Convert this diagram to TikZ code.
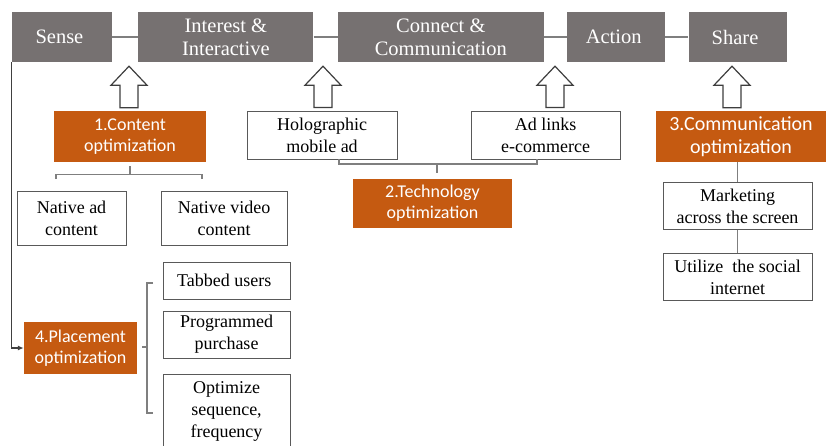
\documentclass[tikz,border=0pt]{standalone}
\usepackage{fontspec}
\setmainfont{Liberation Serif}
\newfontfamily\calib{Carlito}
\usetikzlibrary{positioning, calc, arrows.meta}
\definecolor{boxgray}{RGB}{118,113,113}
\definecolor{rust}{RGB}{197,90,17}
\definecolor{rim}{RGB}{89,89,89}
\definecolor{wiregray}{RGB}{127,127,127}
\newcommand{\hollowup}[3]{%
  \draw [hollow] let \p1 = ($(#1.north)+(#3,0)$), \p2 = (#2.south) in
    ({\x1-9pt},{\y1+3pt}) -- ({\x1-9pt},{\y2-23pt}) -- ({\x1-18pt},{\y2-23pt})
    -- (\x1,{\y2-4pt}) -- ({\x1+18pt},{\y2-23pt}) -- ({\x1+9pt},{\y2-23pt})
    -- ({\x1+9pt},{\y1+3pt}) -- cycle;}

\begin{document}
\begin{tikzpicture}[x = 1pt, y = -1pt,
    stage/.style = { fill = boxgray, text = white, align = center, minimum height = 50pt,
      font = \fontsize{20.5}{23}\selectfont },
    lever/.style = { fill = rust, text = white, align = center,
      font = \calib\fontsize{18}{21}\selectfont },
    item/.style = { draw = rim, line width = 1pt, fill = white, align = center,
      font = \fontsize{18}{22}\selectfont },
    wire/.style = { draw = wiregray, line width = 1.2pt },
    hollow/.style = { draw = rim!70!black, line width = 1.2pt, fill = white, line join = miter }]
  \useasboundingbox (0,0) rectangle (826,445);
  \node [stage, minimum width = 100pt] (sense) at (62,37) { Sense };
  \node [stage, minimum width = 175pt, right = 26pt of sense] (intr) { Interest \& \\ Interactive };
  \node [stage, minimum width = 206pt, right = 24pt of intr] (conn) { Connect \& \\ Communication };
  \node [stage, minimum width = 98pt, right = 23pt of conn] (act) { Action };
  \node [stage, minimum width = 98pt, right = 23pt of act] (share) { Share };
  \draw [wire] (sense) -- (intr) (intr) -- (conn) (conn) -- (act) (act) -- (share);

  \node [lever, minimum width = 152pt, minimum height = 51pt] (cont) at (130,136.5) { 1.Content \\ optimization };
  \node [item, minimum width = 150pt, minimum height = 48pt] (holo) at (322,135) { Holographic \\ mobile ad };
  \node [item, minimum width = 149pt, minimum height = 48pt] (adln) at (545.5,135) { Ad links \\ e-commerce };
  \node [lever, minimum width = 170pt, minimum height = 51pt, font = \calib\fontsize{20}{23}\selectfont]
    (comm) at (741,136.5) { 3.Communication \\ optimization };
  \node [lever, minimum width = 159pt, minimum height = 49pt] (tech) at (432.5,203.5) { 2.Technology \\ optimization };

  \hollowup{cont}{sense}{-1}
  \hollowup{holo}{intr}{1}
  \hollowup{adln}{conn}{9.5}
  \hollowup{comm}{share}{-9}

  \node [item, minimum width = 109pt, minimum height = 54pt] (nad) at (71.5,218) { Native ad \\ content };
  \node [item, minimum width = 126pt, minimum height = 54pt] (nvid) at (224,218) { Native video \\ content };
  \draw [wire] (cont.south) ++(0,4) -- ++(0,8) coordinate (cmid);
  \coordinate (cl) at (56,179);
  \coordinate (cr) at (202,179);
  \draw [wire] (cl) |- (cmid) -| (cr);

  \coordinate (tl) at (339,159);
  \coordinate (tr) at (537,159);
  \coordinate (tmid) at (437,164);
  \draw [wire] (tl) |- (tmid) -| (tr);
  \draw [wire] (tmid) -- ++(0,9);

  \node [item, minimum width = 149pt, minimum height = 47pt, below = 20pt of comm, xshift = -3.5pt] (mark) { Marketing \\ across the screen };
  \node [item, minimum width = 149pt, minimum height = 47pt, below = 23pt of mark] (util) { Utilize~ the social \\ internet };
  \draw [wire] (comm.south -| mark.north) -- (mark.north);
  \draw [wire] (mark.south) -- (mark.south |- util.north);

  \node [lever, minimum width = 113pt, minimum height = 52pt] (place) at (80.5,348) { 4.Placement \\ optimization };
  \draw [wire, draw = black!75, -{Latex[length = 6pt, width = 5pt]}] (sense.south west) |- (place.west);
  \node [item, minimum width = 127pt, minimum height = 37pt] (tab) at (226.5,280.5) { Tabbed users };
  \node [item, minimum width = 127pt, minimum height = 47pt] (prog) at (226.5,334.5) { Programmed \\ purchase };
  \node [item, minimum width = 127pt, minimum height = 74pt] (optm) at (226.5,411) { Optimize \\ sequence, \\ frequency };
  \coordinate (pt) at (153,283);
  \coordinate (pb) at (153,413);
  \coordinate (pmid) at (142,347);
  \draw [wire] (pt) -- ++(-6,0) |- (pb);
  \draw [wire] (pmid) -- ++(5,0);
\end{tikzpicture}
\end{document}
